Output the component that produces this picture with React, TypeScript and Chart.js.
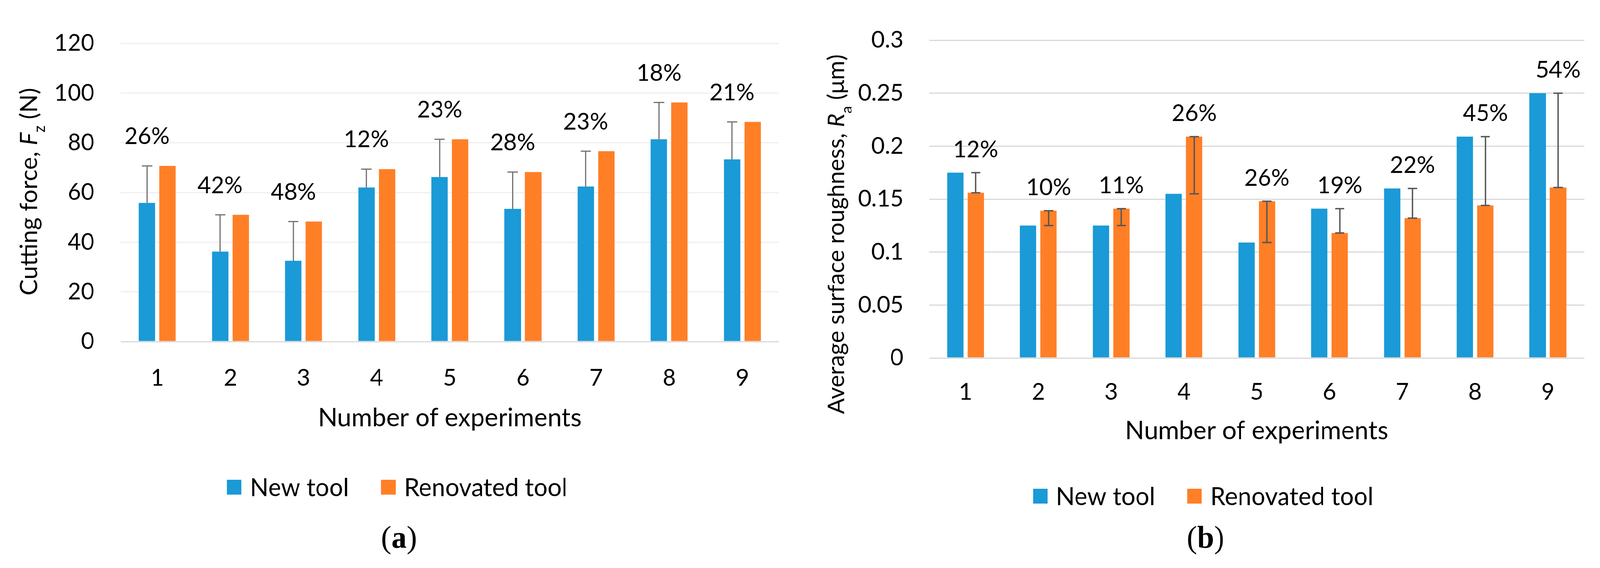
import React, { useEffect, useRef, useState } from "react";
import { Chart, registerables } from "chart.js";

Chart.register(...registerables);

// ---------- data ----------
const categories = ["1", "2", "3", "4", "5", "6", "7", "8", "9"];
const seriesNames = ["New tool", "Renovated tool"];

const forceNew = [55.8, 36.2, 32.5, 62.0, 66.2, 53.4, 62.4, 81.4, 73.3];
const forceRenovated = [70.7, 51.0, 48.3, 69.4, 81.4, 68.2, 76.6, 96.2, 88.4];
const forceDiffLabels = ["26%", "42%", "48%", "12%", "23%", "28%", "23%", "18%", "21%"];

const roughNew = [0.175, 0.125, 0.125, 0.155, 0.109, 0.141, 0.16, 0.209, 0.25];
const roughRenovated = [0.156, 0.139, 0.141, 0.209, 0.148, 0.118, 0.132, 0.144, 0.161];
const roughDiffLabels = ["12%", "10%", "11%", "26%", "26%", "19%", "22%", "45%", "54%"];

const BLUE = "#1A9AD6";
const ORANGE = "#FF7F27";
const FONT = "Lato, 'Liberation Sans', sans-serif";
const SERIF = "'Liberation Serif', 'DejaVu Serif', serif";

const PAGE_W = 4174;
const PAGE_H = 1455;

type Seg = { t: string; italic?: boolean; sub?: boolean };

type PanelCfg = {
  newVals: number[];
  renVals: number[];
  pct: string[];
  errOn: 0 | 1;
  bothCaps: boolean;
  errColor: string;
  errWidth: number;
  capWidth: number;
  pctSize: number;
  pctOffset: number;
  yMax: number;
  yStep: number;
  padTop: number;
  padRight: number;
  yAxisWidth: number;
  xAxisHeight: number;
  yTickPad: number;
  xTickPad: number;
  gridColor: string;
  zeroColor: string;
  yTitle: Seg[];
  yTitleSize: number;
  yTitleBaseX: number;
  yTitleCY: number;
  xTitle: string;
  xTitleSize: number;
  xTitleCY: number;
  legendCX: number;
  legendCY: number;
  legendSize: number;
  caption: string;
  captionCX: number;
  captionCY: number;
  tickFmt: (v: number) => string;
};

function overlayPlugin(cfg: PanelCfg) {
  return {
    id: "overlay",
    afterDatasetsDraw(chart: any) {
      const ctx: CanvasRenderingContext2D = chart.ctx;
      const ys = chart.scales.y;
      const a = chart.data.datasets[0].data as number[];
      const b = chart.data.datasets[1].data as number[];
      const own = cfg.errOn === 0 ? a : b;
      const other = cfg.errOn === 0 ? b : a;
      const meta = chart.getDatasetMeta(cfg.errOn);
      ctx.save();
      ctx.strokeStyle = cfg.errColor;
      ctx.lineWidth = cfg.errWidth;
      meta.data.forEach((el: any, i: number) => {
        const x = el.x;
        const y0 = ys.getPixelForValue(own[i]);
        const y1 = ys.getPixelForValue(other[i]);
        ctx.beginPath();
        ctx.moveTo(x, y0);
        ctx.lineTo(x, y1);
        ctx.moveTo(x - cfg.capWidth / 2, y1);
        ctx.lineTo(x + cfg.capWidth / 2, y1);
        if (cfg.bothCaps) {
          ctx.moveTo(x - cfg.capWidth / 2, y0);
          ctx.lineTo(x + cfg.capWidth / 2, y0);
        }
        ctx.stroke();
      });
      ctx.fillStyle = "#000";
      ctx.font = `${cfg.pctSize}px ${FONT}`;
      ctx.textAlign = "center";
      ctx.textBaseline = "middle";
      meta.data.forEach((el: any, i: number) => {
        const top = Math.min(ys.getPixelForValue(a[i]), ys.getPixelForValue(b[i]));
        ctx.fillText(cfg.pct[i], el.x, top - cfg.pctOffset);
      });
      ctx.restore();
    },
    afterDraw(chart: any) {
      const ctx: CanvasRenderingContext2D = chart.ctx;
      const area = chart.chartArea;
      ctx.save();
      ctx.fillStyle = "#000";

      // y title (rotated, rich text)
      const S = cfg.yTitleSize;
      const fontFor = (s: Seg) =>
        `${s.italic ? "italic " : ""}${s.sub ? Math.round(S * 0.65) : S}px ${FONT}`;
      let total = 0;
      const widths = cfg.yTitle.map((s) => {
        ctx.font = fontFor(s);
        const w = ctx.measureText(s.t).width;
        total += w;
        return w;
      });
      ctx.translate(cfg.yTitleBaseX, cfg.yTitleCY);
      ctx.rotate(-Math.PI / 2);
      ctx.textAlign = "left";
      ctx.textBaseline = "alphabetic";
      let x = -total / 2;
      cfg.yTitle.forEach((s, i) => {
        ctx.font = fontFor(s);
        ctx.fillText(s.t, x, s.sub ? S * 0.33 : 0);
        x += widths[i];
      });
      ctx.setTransform(1, 0, 0, 1, 0, 0);

      // x title
      ctx.font = `${cfg.xTitleSize}px ${FONT}`;
      ctx.textAlign = "center";
      ctx.textBaseline = "middle";
      ctx.fillText(cfg.xTitle, (area.left + area.right) / 2, cfg.xTitleCY);

      // legend
      const box = 38;
      const gapBox = 22;
      const gapItem = 84;
      ctx.font = `${cfg.legendSize}px ${FONT}`;
      const items = chart.data.datasets.map((d: any) => ({
        label: d.label as string,
        color: d.backgroundColor as string,
        w: ctx.measureText(d.label).width,
      }));
      let lw = 0;
      items.forEach((it: any, i: number) => {
        lw += box + gapBox + it.w + (i < items.length - 1 ? gapItem : 0);
      });
      let lx = cfg.legendCX - lw / 2;
      ctx.textAlign = "left";
      items.forEach((it: any) => {
        ctx.fillStyle = it.color;
        ctx.fillRect(lx, cfg.legendCY - box / 2, box, box);
        ctx.fillStyle = "#000";
        ctx.fillText(it.label, lx + box + gapBox, cfg.legendCY + 2);
        lx += box + gapBox + it.w + gapItem;
      });

      // caption "(a)" with bold letter
      const cs = 80;
      const parts = [
        { t: "(", f: `${cs}px ${SERIF}` },
        { t: cfg.caption, f: `bold ${cs}px ${SERIF}` },
        { t: ")", f: `${cs}px ${SERIF}` },
      ];
      let cw = 0;
      const pw = parts.map((p) => {
        ctx.font = p.f;
        const w = ctx.measureText(p.t).width;
        cw += w;
        return w;
      });
      let cx = cfg.captionCX - cw / 2;
      ctx.textBaseline = "middle";
      parts.forEach((p, i) => {
        ctx.font = p.f;
        ctx.fillText(p.t, cx, cfg.captionCY);
        cx += pw[i];
      });
      ctx.restore();
    },
  };
}

function Panel({ cfg, left, width }: { cfg: PanelCfg; left: number; width: number }) {
  const ref = useRef<HTMLCanvasElement | null>(null);
  useEffect(() => {
    let chart: Chart | null = null;
    let cancelled = false;
    const make = () => {
      if (cancelled || !ref.current) return;
      chart = new Chart(ref.current, {
        type: "bar",
        data: {
          labels: categories,
          datasets: [
            {
              label: seriesNames[0],
              data: cfg.newVals,
              backgroundColor: BLUE,
              borderWidth: 0,
              categoryPercentage: 0.562,
              barPercentage: 0.8,
            },
            {
              label: seriesNames[1],
              data: cfg.renVals,
              backgroundColor: ORANGE,
              borderWidth: 0,
              categoryPercentage: 0.562,
              barPercentage: 0.8,
            },
          ],
        },
        options: {
          responsive: false,
          animation: false,
          devicePixelRatio: 1,
          layout: { padding: { top: cfg.padTop, right: cfg.padRight, left: 0, bottom: 0 } },
          plugins: { legend: { display: false }, tooltip: { enabled: false }, title: { display: false } },
          scales: {
            x: {
              grid: { display: false, drawTicks: false },
              border: { display: false },
              ticks: {
                color: "#000",
                font: { family: FONT, size: 60 },
                padding: cfg.xTickPad,
                maxRotation: 0,
              },
              afterFit: (s: any) => {
                s.height = cfg.xAxisHeight;
              },
            },
            y: {
              min: 0,
              max: cfg.yMax,
              grid: {
                drawTicks: false,
                lineWidth: 3,
                color: (c: any) => (c.tick && c.tick.value === 0 ? cfg.zeroColor : cfg.gridColor),
              },
              border: { display: false },
              ticks: {
                stepSize: cfg.yStep,
                color: "#000",
                font: { family: FONT, size: 60 },
                padding: cfg.yTickPad,
                callback: (v: any) => cfg.tickFmt(Number(v)),
              },
              afterFit: (s: any) => {
                s.width = cfg.yAxisWidth;
              },
            },
          },
        },
        plugins: [overlayPlugin(cfg)],
      });
    };
    const fontsApi = (document as any).fonts;
    if (fontsApi && fontsApi.load) {
      Promise.all([
        fontsApi.load(`60px Lato`),
        fontsApi.load(`italic 60px Lato`),
        fontsApi.load(`80px 'Liberation Serif'`),
        fontsApi.load(`bold 80px 'Liberation Serif'`),
      ])
        .catch(() => null)
        .then(make);
    } else {
      make();
    }
    return () => {
      cancelled = true;
      if (chart) chart.destroy();
    };
  }, [cfg]);
  return (
    <canvas
      ref={ref}
      width={width}
      height={PAGE_H}
      style={{ position: "absolute", left, top: 0, width, height: PAGE_H }}
    />
  );
}

const forceCfg: PanelCfg = {
  newVals: forceNew,
  renVals: forceRenovated,
  pct: forceDiffLabels,
  errOn: 0,
  bothCaps: false,
  errColor: "#707070",
  errWidth: 3,
  capWidth: 27,
  pctSize: 60,
  pctOffset: 75,
  yMax: 120,
  yStep: 20,
  padTop: 111,
  padRight: 55,
  yAxisWidth: 315,
  xAxisHeight: 580,
  yTickPad: 69,
  xTickPad: 58,
  gridColor: "#EFEFEF",
  zeroColor: "#D9D9D9",
  yTitle: [{ t: "Cutting force, " }, { t: "F", italic: true }, { t: "z", sub: true }, { t: " (N)" }],
  yTitleSize: 62,
  yTitleBaseX: 97,
  yTitleCY: 491,
  xTitle: "Number of experiments",
  xTitleSize: 66,
  xTitleCY: 1071,
  legendCX: 1036,
  legendCY: 1248,
  legendSize: 64,
  caption: "a",
  captionCX: 1041,
  captionCY: 1382,
  tickFmt: (v) => String(v),
};

const roughCfg: PanelCfg = {
  newVals: roughNew,
  renVals: roughRenovated,
  pct: roughDiffLabels,
  errOn: 1,
  bothCaps: true,
  errColor: "#555555",
  errWidth: 3.5,
  capWidth: 24,
  pctSize: 60,
  pctOffset: 59,
  yMax: 0.3,
  yStep: 0.05,
  padTop: 97,
  padRight: 41,
  yAxisWidth: 337,
  xAxisHeight: 538,
  yTickPad: 67,
  xTickPad: 52,
  gridColor: "#D9D9D9",
  zeroColor: "#D9D9D9",
  yTitle: [
    { t: "Average surface roughness, " },
    { t: "R", italic: true },
    { t: "a", sub: true },
    { t: " (μm)" },
  ],
  yTitleSize: 60,
  yTitleBaseX: 115,
  yTitleCY: 600,
  xTitle: "Number of experiments",
  xTitleSize: 66,
  xTitleCY: 1104,
  legendCX: 1052,
  legendCY: 1271,
  legendSize: 64,
  caption: "b",
  captionCX: 1058,
  captionCY: 1382,
  tickFmt: (v) => String(parseFloat(v.toFixed(2))),
};

export default function App() {
  const [vp, setVp] = useState({ w: PAGE_W, h: PAGE_H });
  useEffect(() => {
    const upd = () =>
      setVp({
        w: document.documentElement.clientWidth || window.innerWidth,
        h: document.documentElement.clientHeight || window.innerHeight,
      });
    upd();
    window.addEventListener("resize", upd);
    return () => window.removeEventListener("resize", upd);
  }, []);
  const sx = vp.w / PAGE_W;
  const sy = vp.h / PAGE_H;
  return (
    <div
      style={{
        position: "fixed",
        left: 0,
        top: 0,
        width: PAGE_W,
        height: PAGE_H,
        background: "#fff",
        overflow: "hidden",
        transformOrigin: "0 0",
        transform: `scale(${sx}, ${sy})`,
      }}
    >
      <Panel cfg={forceCfg} left={0} width={2087} />
      <Panel cfg={roughCfg} left={2087} width={2087} />
    </div>
  );
}
